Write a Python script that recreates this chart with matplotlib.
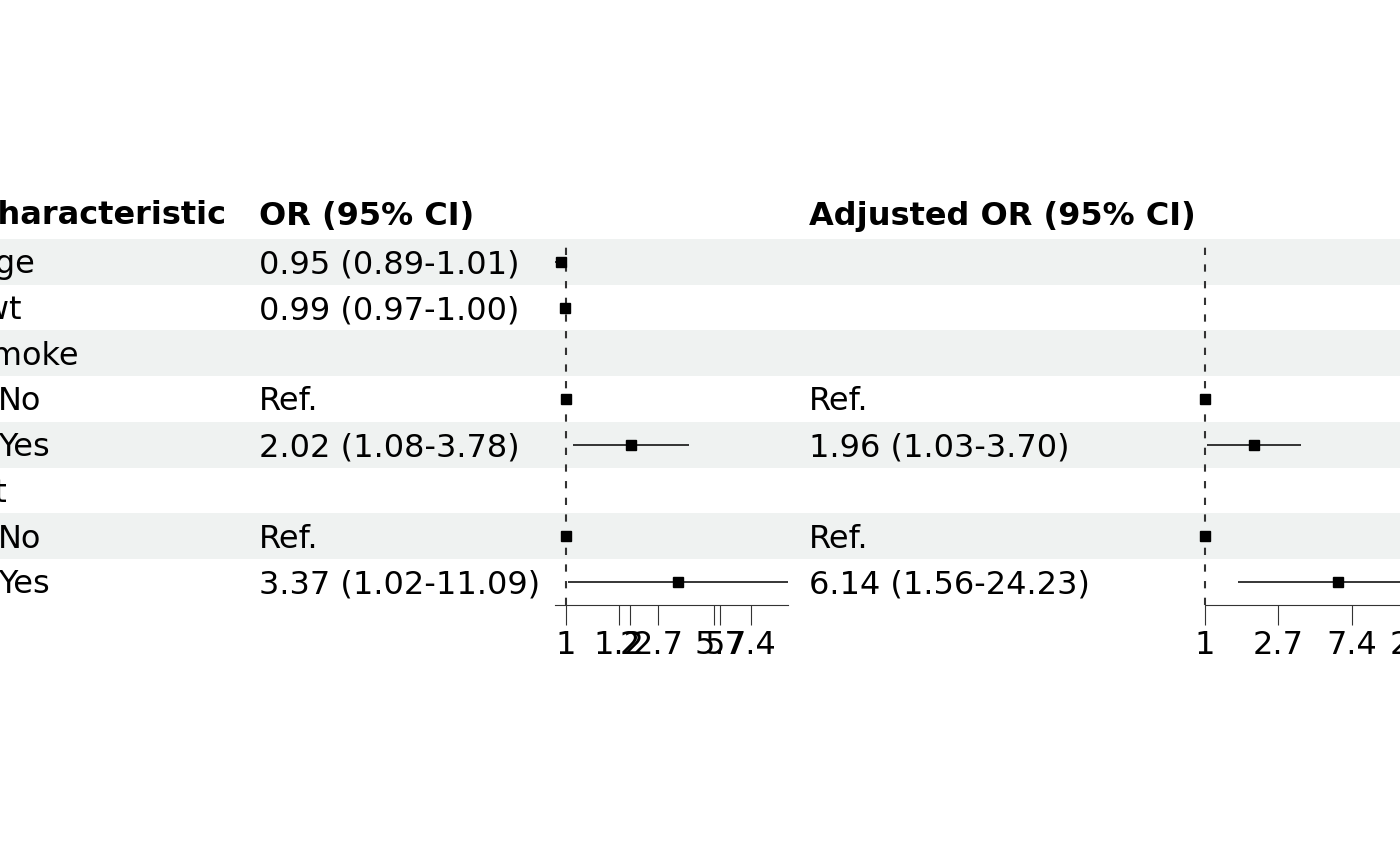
import numpy as np
import matplotlib
matplotlib.use("Agg")
import matplotlib.pyplot as plt

# table contents
labels = ["Age", "lwt", "smoke", "No", "Yes", "ht", "No", "Yes"]
indent = [0, 0, 0, 1, 1, 0, 1, 1]
or_text = ["0.95 (0.89-1.01)", "0.99 (0.97-1.00)", "", "Ref.", "2.02 (1.08-3.78)",
           "", "Ref.", "3.37 (1.02-11.09)"]
adj_text = ["", "", "", "Ref.", "1.96 (1.03-3.70)", "", "Ref.", "6.14 (1.56-24.23)"]

nan = np.nan
est1 = [0.95, 0.99, nan, 1.0, 2.02, nan, 1.0, 3.37]
lo1 = [0.89, 0.97, nan, 1.0, 1.08, nan, 1.0, 1.02]
hi1 = [1.01, 1.00, nan, 1.0, 3.78, nan, 1.0, 11.09]

est2 = [nan, nan, nan, 1.0, 1.96, nan, 1.0, 6.14]
lo2 = [nan, nan, nan, 1.0, 1.03, nan, 1.0, 1.56]
hi2 = [nan, nan, nan, 1.0, 3.70, nan, 1.0, 24.23]

# axis ticks as they appear under each forest panel
ticks1 = [1, 1.78, 2, 2.72, 5, 5.3, 7.39]
ticklabels1 = ["1", "1.2", "2", "2.7", "5", "5.7", "7.4"]
ticks2 = [1, 2.72, 7.39, 20.09]
ticklabels2 = ["1", "2.7", "7.4", "20.1"]

W, H = 1400, 866
FS = 23
band_color = "#eff2f1"

fig = plt.figure(figsize=(W / 100, H / 100), dpi=100)

# base layer in pixel coordinates for the table part
base = fig.add_axes([0, 0, 1, 1])
base.set_xlim(0, W)
base.set_ylim(H, 0)
base.axis("off")

row_top = 239
row_h = 45.7
n = len(labels)

for i in range(n):
    if i % 2 == 0:
        base.axhspan(row_top + i * row_h, row_top + (i + 1) * row_h,
                     color=band_color, lw=0, zorder=0)

col_x = [-26, 259, 809]
indent_px = 24
head_y = 213
base_off = 11.5  # baseline offset from row centre

headers = ["Characteristic", "OR (95% CI)", "Adjusted OR (95% CI)"]
for x, h in zip(col_x, headers):
    base.text(x, head_y + base_off, h, fontsize=FS, fontweight="bold",
              ha="left", va="baseline")

for i in range(n):
    yc = row_top + (i + 0.5) * row_h + base_off
    base.text(col_x[0] + indent[i] * indent_px, yc, labels[i], fontsize=FS,
              ha="left", va="baseline")
    for x, col in zip(col_x[1:], [or_text, adj_text]):
        if col[i]:
            base.text(x, yc, col[i], fontsize=FS, ha="left", va="baseline")


def forest(left_px, width_px, est, lo, hi, xlim, ticks, ticklabels):
    ax = fig.add_axes([left_px / W, 1 - (row_top + n * row_h) / H,
                       width_px / W, n * row_h / H])
    ax.patch.set_alpha(0)
    ax.set_xscale("log")
    ax.set_xlim(*xlim)
    ax.set_ylim(n, 0)
    y = np.arange(n) + 0.5
    ax.axvline(1, color="#333333", lw=1.5, ls=(0, (3.5, 4.5)), zorder=1,
               clip_on=False)
    ax.hlines(y, lo, hi, color="black", lw=1.1, zorder=2)
    ax.plot(est, y, "s", color="black", ms=6.5, zorder=3, clip_on=False)
    for s in ["top", "left", "right"]:
        ax.spines[s].set_visible(False)
    ax.spines["bottom"].set_color("#333333")
    ax.spines["bottom"].set_linewidth(0.8)
    ax.set_yticks([])
    ax.xaxis.set_minor_locator(matplotlib.ticker.NullLocator())
    ax.set_xticks(ticks)
    ax.set_xticklabels(ticklabels)
    ax.tick_params(axis="x", length=14.4, width=0.8, color="#333333",
                   labelsize=FS, pad=4)
    return ax


forest(555, 233, est1, lo1, hi1, (0.89, 11.09), ticks1, ticklabels1)
forest(1205, 234, est2, lo2, hi2, (1.0, 24.23), ticks2, ticklabels2)

fig.savefig("out.png", dpi=100)
